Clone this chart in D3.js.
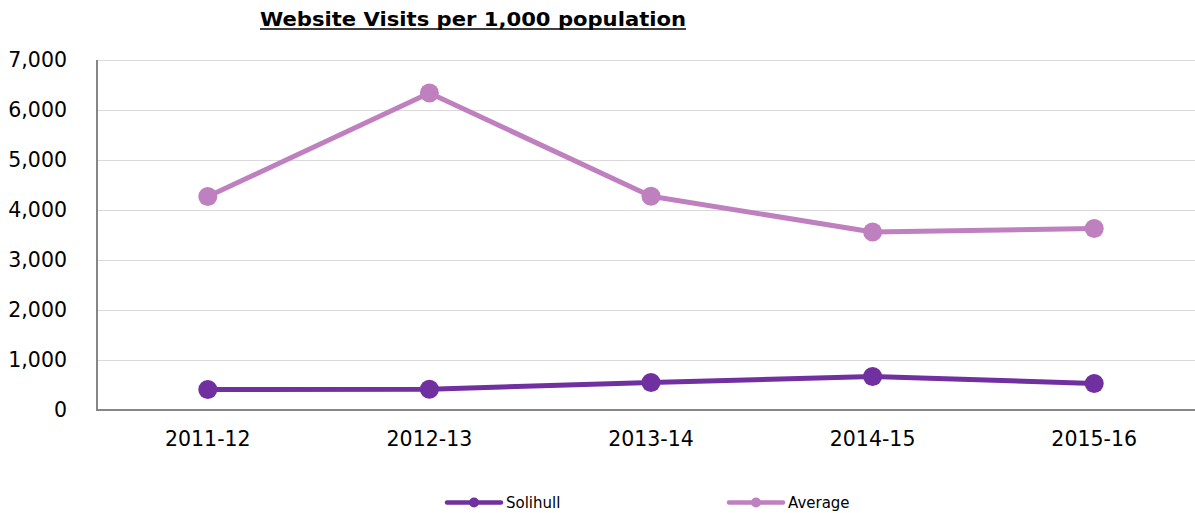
<!DOCTYPE html>
<html>
<head>
<meta charset="utf-8">
<script src="https://cdn.jsdelivr.net/npm/d3@7"></script>
<style>
  body { margin: 0; background: #fff; }
  svg { display: block; font-family: 'DejaVu Sans', Verdana, sans-serif; }
  .grid line { stroke: #d9d9d9; stroke-width: 1; }
  .axis path, .axis line { stroke: #868686; }
  .ticklabel { font-size: 20.5px; fill: #000; }
</style>
</head>
<body>
<div id="chart"></div>
<script>
'use strict'

const categories = ['2011-12', '2012-13', '2013-14', '2014-15', '2015-16']
const solihull = [410, 415, 550, 670, 530]
const average = [4270, 6340, 4275, 3560, 3630]
const yTicks = [0, 1000, 2000, 3000, 4000, 5000, 6000, 7000]
const seriesNames = ['Solihull', 'Average']
const seriesColors = ['#7030a0', '#bf80bf']

const width = 1195
const height = 513
const margin = { left: 97, top: 60, bottom: 103 }
const plotWidth = 1108
const plotHeight = height - margin.top - margin.bottom

const svg = d3.select('#chart')
  .append('svg')
  .attr('width', width)
  .attr('height', height)

const x = d3.scaleBand()
  .domain(categories)
  .range([margin.left, margin.left + plotWidth])

const y = d3.scaleLinear()
  .domain([0, 7000])
  .range([margin.top + plotHeight, margin.top])

// gridlines
svg.append('g')
  .attr('class', 'grid')
  .selectAll('line')
  .data(yTicks.slice(1))
  .enter()
  .append('line')
  .attr('x1', margin.left)
  .attr('x2', margin.left + plotWidth)
  .attr('y1', d => Math.round(y(d)) + 0.5)
  .attr('y2', d => Math.round(y(d)) + 0.5)

// y tick labels
svg.append('g')
  .selectAll('text')
  .data(yTicks)
  .enter()
  .append('text')
  .attr('class', 'ticklabel')
  .attr('x', 67)
  .attr('y', d => y(d))
  .attr('dy', '0.36em')
  .attr('text-anchor', 'end')
  .text(d => d3.format(',')(d))

// x tick labels
svg.append('g')
  .selectAll('text')
  .data(categories)
  .enter()
  .append('text')
  .attr('class', 'ticklabel')
  .attr('x', d => x(d) + x.bandwidth() / 2)
  .attr('y', 446)
  .attr('text-anchor', 'middle')
  .text(d => d)

// axes lines
const axisG = svg.append('g').attr('class', 'axis')
axisG.append('line')
  .attr('x1', margin.left)
  .attr('x2', margin.left)
  .attr('y1', y(7000))
  .attr('y2', y(0))
  .attr('stroke-width', 2)
axisG.append('line')
  .attr('x1', margin.left - 1)
  .attr('x2', margin.left + plotWidth)
  .attr('y1', y(0))
  .attr('y2', y(0))
  .attr('stroke-width', 2)

// series
const series = [solihull, average]
const line = d3.line()
  .x((d, i) => x(categories[i]) + x.bandwidth() / 2)
  .y(d => y(d))

series.forEach((values, si) => {
  const g = svg.append('g').attr('class', 'series')
  g.append('path')
    .datum(values)
    .attr('d', line)
    .attr('fill', 'none')
    .attr('stroke', seriesColors[si])
    .attr('stroke-width', 5)
    .attr('stroke-linejoin', 'round')
  g.selectAll('circle')
    .data(values)
    .enter()
    .append('circle')
    .attr('cx', (d, i) => x(categories[i]) + x.bandwidth() / 2)
    .attr('cy', d => y(d))
    .attr('r', 9.5)
    .attr('fill', seriesColors[si])
})

// title
const title = svg.append('text')
  .attr('x', 260)
  .attr('y', 26)
  .attr('font-size', 19)
  .attr('font-weight', 'bold')
  .attr('textLength', 426)
  .attr('lengthAdjust', 'spacingAndGlyphs')
  .text('Website Visits per 1,000 population')
svg.append('line')
  .attr('x1', 260)
  .attr('x2', 686)
  .attr('y1', 29)
  .attr('y2', 29)
  .attr('stroke', '#000')
  .attr('stroke-width', 1.5)

// legend
const legendX = [447, 729]
const legend = svg.append('g')
  .attr('class', 'legend')
  .selectAll('g')
  .data(seriesNames)
  .enter()
  .append('g')
  .attr('transform', (d, i) => `translate(${legendX[i]},502.5)`)
legend.append('line')
  .attr('x1', 0)
  .attr('x2', 54)
  .attr('stroke', (d, i) => seriesColors[i])
  .attr('stroke-width', 4.5)
  .attr('stroke-linecap', 'round')
legend.append('circle')
  .attr('cx', 27)
  .attr('r', 5)
  .attr('fill', (d, i) => seriesColors[i])
legend.append('text')
  .attr('x', 59)
  .attr('dy', '0.36em')
  .attr('font-size', 15)
  .text(d => d)
</script>
</body>
</html>
